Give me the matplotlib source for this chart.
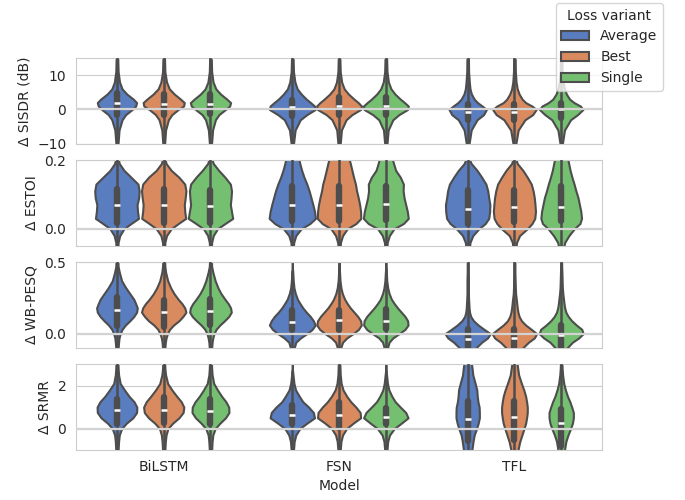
import numpy as np
import matplotlib
matplotlib.use("Agg")
import matplotlib.pyplot as plt
from matplotlib.patches import Patch
import seaborn as sns

models = ["BiLSTM", "FSN", "TFL"]
variants = ["Average", "Best", "Single"]

# y levels where each violin's relative density was taken, one list per metric;
# density tables are [model][variant], box stats are (whisker_lo, q1, median, q3, whisker_hi)

sisdr_levels = [-16, -10, -6, -3, -1.5, 0, 1, 2, 3, 4.5, 6, 8, 11, 16]
sisdr_density = [
    [[.03, .045, .09, .22, .37, .65, .80, .84, .70, .42, .22, .11, .05, .03],
     [.03, .04, .08, .20, .35, .62, .85, .88, .72, .45, .24, .12, .05, .03],
     [.03, .045, .09, .21, .36, .64, .82, .86, .70, .43, .23, .11, .05, .03]],
    [[.03, .05, .12, .34, .62, .98, .95, .78, .60, .38, .21, .11, .05, .03],
     [.03, .05, .10, .30, .55, .92, .96, .82, .64, .40, .22, .11, .05, .03],
     [.03, .05, .10, .30, .56, .93, .96, .80, .62, .39, .22, .11, .05, .03]],
    [[.03, .06, .15, .40, .68, .80, .62, .42, .28, .16, .10, .07, .04, .03],
     [.03, .06, .16, .45, .78, .93, .75, .48, .33, .20, .12, .07, .04, .03],
     [.03, .05, .14, .40, .70, .93, .82, .55, .36, .22, .14, .08, .04, .03]],
]
sisdr_box = [
    [(-12, -1.5, 1.8, 4.8, 16), (-12, -1.5, 1.5, 4.4, 16), (-12, -1.3, 1.7, 4.5, 16)],
    [(-12, -2.0, 0.7, 2.9, 16), (-12, -1.7, 1.0, 3.5, 16), (-12, -1.6, 1.0, 3.5, 16)],
    [(-12, -3.2, -0.8, 1.5, 16), (-12, -3.0, -0.7, 1.6, 16), (-12, -2.4, 0.0, 2.0, 16)],
]

estoi_levels = [-0.07, -0.04, -0.02, 0.0, 0.015, 0.03, 0.05, 0.07, 0.09, 0.11,
                0.13, 0.15, 0.17, 0.19, 0.21, 0.24]
estoi_density = [
    [[.03, .05, .12, .30, .60, .92, .88, .86, .93, .95, .90, .60, .30, .10, .03, .02],
     [.03, .05, .12, .32, .62, .94, .90, .88, .92, .95, .90, .65, .32, .10, .03, .02],
     [.03, .05, .12, .30, .62, .95, .90, .85, .88, .90, .85, .62, .35, .12, .03, .02]],
    [[.03, .06, .15, .38, .75, .99, .95, .88, .80, .72, .62, .50, .40, .32, .26, .20],
     [.03, .06, .15, .35, .72, .93, .92, .88, .82, .75, .70, .62, .55, .48, .40, .30],
     [.03, .06, .15, .35, .75, .96, .92, .85, .78, .74, .75, .62, .42, .33, .25, .18]],
    [[.05, .10, .22, .48, .75, .90, .94, .95, .90, .86, .78, .60, .40, .15, .03, .02],
     [.04, .09, .22, .55, .75, .87, .90, .88, .85, .80, .72, .55, .36, .12, .03, .02],
     [.06, .15, .33, .56, .80, .87, .84, .78, .72, .63, .55, .46, .38, .32, .26, .18]],
]
estoi_box = [
    [(-0.1, 0.017, 0.069, 0.115, 0.25), (-0.1, 0.017, 0.068, 0.117, 0.25), (-0.1, 0.017, 0.066, 0.113, 0.25)],
    [(-0.1, 0.022, 0.070, 0.123, 0.25), (-0.1, 0.022, 0.070, 0.125, 0.25), (-0.1, 0.025, 0.073, 0.123, 0.25)],
    [(-0.1, 0.015, 0.058, 0.113, 0.25), (-0.1, 0.019, 0.064, 0.113, 0.25), (-0.1, 0.022, 0.062, 0.125, 0.25)],
]

pesq_levels = [-0.15, -0.1, -0.06, -0.03, 0.0, 0.03, 0.06, 0.09, 0.12, 0.15,
               0.18, 0.21, 0.24, 0.28, 0.32, 0.37, 0.43, 0.47, 0.55]
pesq_density = [
    [[.03, .05, .07, .09, .14, .22, .36, .55, .72, .84, .87, .80, .72, .55, .38, .20, .10, .05, .03],
     [.03, .05, .07, .10, .16, .25, .42, .65, .82, .95, .90, .78, .62, .44, .30, .17, .08, .05, .03],
     [.03, .05, .07, .10, .15, .24, .40, .60, .78, .89, .86, .76, .62, .45, .32, .20, .10, .05, .03]],
    [[.03, .08, .15, .35, .62, .85, .98, .90, .77, .60, .45, .33, .22, .13, .07, .04, .02, 0, 0],
     [.03, .07, .15, .33, .60, .83, .95, .92, .80, .64, .48, .35, .24, .14, .08, .04, .02, 0, 0],
     [.03, .07, .14, .30, .57, .82, .95, .93, .82, .66, .50, .36, .24, .14, .08, .04, .02, 0, 0]],
    [[.15, .35, .60, .85, .97, .70, .45, .25, .13, .08, .06, .05, .04, .03, .03, .03, .02, .02, .02],
     [.15, .35, .60, .85, .95, .72, .48, .30, .20, .15, .12, .10, .08, .05, .04, .03, .02, .02, .02],
     [.10, .25, .48, .75, .94, .88, .65, .45, .30, .20, .15, .12, .10, .07, .05, .04, .03, .02, .02]],
]
pesq_box = [
    [(-0.12, 0.053, 0.168, 0.257, 0.55), (-0.12, 0.048, 0.149, 0.235, 0.55), (-0.12, 0.060, 0.156, 0.240, 0.55)],
    [(-0.12, 0.024, 0.084, 0.168, 0.44), (-0.12, 0.024, 0.096, 0.168, 0.457), (-0.12, 0.029, 0.091, 0.173, 0.45)],
    [(-0.2, -0.12, -0.036, 0.029, 0.55), (-0.2, -0.11, -0.030, 0.030, 0.55), (-0.2, -0.10, -0.007, 0.060, 0.55)],
]

srmr_levels = [-1.5, -1.0, -0.6, -0.3, 0.0, 0.25, 0.5, 0.75, 1.0, 1.25, 1.5, 1.8, 2.1, 2.5, 2.8, 3.5]
srmr_density = [
    [[.03, .05, .07, .10, .20, .40, .68, .84, .85, .73, .52, .32, .14, .07, .05, .03],
     [.03, .05, .07, .10, .18, .38, .65, .83, .86, .75, .56, .35, .17, .08, .05, .03],
     [.03, .05, .07, .10, .20, .40, .64, .79, .78, .66, .48, .30, .14, .07, .05, .03]],
    [[.03, .05, .08, .15, .32, .62, .95, .90, .70, .45, .30, .14, .07, .03, 0, 0],
     [.03, .05, .08, .15, .32, .60, .92, .90, .72, .50, .33, .17, .09, .05, .04, .02],
     [.03, .05, .08, .16, .36, .66, .95, .85, .62, .40, .26, .13, .07, .03, 0, 0]],
    [[.10, .18, .23, .28, .38, .45, .50, .50, .49, .44, .41, .39, .32, .22, .19, .10],
     [.08, .15, .23, .32, .41, .48, .52, .55, .55, .52, .48, .40, .30, .18, .14, .06],
     [.06, .14, .20, .29, .40, .48, .52, .52, .45, .37, .27, .18, .11, .06, .04, .02]],
]
srmr_box = [
    [(-1.5, 0.19, 0.85, 1.40, 3.5), (-1.5, 0.27, 0.88, 1.48, 3.5), (-1.5, 0.19, 0.82, 1.37, 3.5)],
    [(-1.5, 0.19, 0.61, 1.09, 2.7), (-1.5, 0.03, 0.63, 1.22, 3.5), (-1.5, 0.19, 0.52, 0.98, 2.7)],
    [(-1.5, -0.60, 0.46, 1.29, 3.5), (-1.5, -0.52, 0.52, 1.29, 3.5), (-1.5, -0.83, 0.27, 0.90, 3.5)],
]

metric_labels = ["Δ SISDR (dB)", "Δ ESTOI", "Δ WB-PESQ", "Δ SRMR"]
metric_ylims = [(-10, 15), (-0.05, 0.2), (-0.1, 0.5), (-1, 3)]
metric_yticks = [[-10, 0, 10], [0.0, 0.2], [0.0, 0.5], [0, 2]]

sns.set_style("whitegrid")
colors = [sns.desaturate(c, 0.75) for c in sns.color_palette("muted", 3)]
gray = "#4d4d4d"

n_hue = len(variants)
slot = 0.8 / n_hue
offsets = [(-0.4 + slot / 2) + k * slot for k in range(n_hue)]
half_w = slot / 2


def draw_metric(ax, levels, density, boxes):
    levels = np.asarray(levels)
    for i in range(len(models)):
        for j in range(n_hue):
            pos = i + offsets[j]
            d = np.asarray(density[i][j])
            ax.fill_betweenx(levels, pos - d * half_w, pos + d * half_w,
                             facecolor=colors[j], edgecolor=gray, lw=1.5,
                             joinstyle="round", zorder=2)
            lo, q1, med, q3, hi = boxes[i][j]
            ax.plot([pos, pos], [lo, hi], color=gray, lw=1.8, zorder=3)
            ax.plot([pos, pos], [q1, q3], color=gray, lw=4.6,
                    solid_capstyle="round", zorder=3)
            ax.plot([pos], [med], marker="_", color="white", ms=4, mew=1.8, zorder=4)
    ax.axhline(0, color="lightgray", lw=1.6, zorder=5)


fig, axes = plt.subplots(4, 1, sharex=True, figsize=(6.85, 5.0), dpi=100)
fig.subplots_adjust(left=0.111, right=0.879, top=0.884, bottom=0.1, hspace=0.19)

rows = [
    (sisdr_levels, sisdr_density, sisdr_box),
    (estoi_levels, estoi_density, estoi_box),
    (pesq_levels, pesq_density, pesq_box),
    (srmr_levels, srmr_density, srmr_box),
]
for ax, (lv, dn, bx), label, ylim, yt in zip(axes, rows, metric_labels,
                                            metric_ylims, metric_yticks):
    draw_metric(ax, lv, dn, bx)
    ax.set_ylim(*ylim)
    ax.set_yticks(yt)
    ax.set_ylabel(label)
    ax.grid(False, axis="x")

axes[-1].set_xlim(-0.5, 2.5)
axes[-1].set_xticks(range(len(models)))
axes[-1].set_xticklabels(models)
axes[-1].set_xlabel("Model")

handles = [Patch(facecolor=c, edgecolor=gray, lw=1.5) for c in colors]
fig.legend(handles, variants, title="Loss variant", loc="upper right",
           bbox_to_anchor=(0.978, 1.008))

fig.savefig("out.png", dpi=100)
